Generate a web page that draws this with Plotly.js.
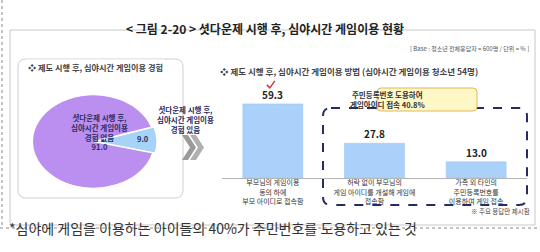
<!DOCTYPE html>
<html>
<head>
<meta charset="utf-8">
<script src="https://cdn.plot.ly/plotly-3.0.1.min.js"></script>
<style>
html,body{margin:0;padding:0;background:#fff;}
#wrap{position:relative;width:540px;height:252px;}
#pie{position:absolute;left:45px;top:93px;width:97px;height:97px;transform:scaleX(1.31);transform-origin:50% 50%;z-index:0;}
#chart{position:absolute;left:0;top:0;width:540px;height:252px;z-index:1;}
</style>
</head>
<body>
<div id="wrap">
<div id="pie"></div>
<div id="chart"></div>
</div>
<script>
// ---- data ----
const categories = [
  '부모님의 게임이용<br>동의 하에<br>부모 아이디로 접속함',
  '허락 없이 부모님의<br>게임 아이디를 개설해 게임에<br>접속함',
  '가족 외 타인의<br>주민등록번호를<br>이용하여 게임 접속'
];
const methodValues = [59.3, 27.8, 13.0];
const pieLabels = ['셧다운제 시행 후, 심야시간 게임이용 경험 있음', '셧다운제 시행 후, 심야시간 게임이용 경험 없음'];
const pieValues = [9.0, 91.0];
const calloutText = '주민등록번호 도용하여<br>게임아이디 접속 40.8%';

// ---- helpers (pixel -> paper) ----
const W = 540, H = 252;
const px = x => x / W;
const py = y => 1 - y / H;
function rrect(x0, y0, x1, y1, r) {
  const a = (x, y) => px(x) + ',' + py(y);
  return 'M' + a(x0 + r, y0) + ' L' + a(x1 - r, y0) +
    ' Q' + a(x1, y0) + ' ' + a(x1, y0 + r) +
    ' L' + a(x1, y1 - r) + ' Q' + a(x1, y1) + ' ' + a(x1 - r, y1) +
    ' L' + a(x0 + r, y1) + ' Q' + a(x0, y1) + ' ' + a(x0, y1 - r) +
    ' L' + a(x0, y0 + r) + ' Q' + a(x0, y0) + ' ' + a(x0 + r, y0) + ' Z';
}
function poly(pts) {
  return 'M' + pts.map(p => px(p[0]) + ',' + py(p[1])).join(' L') + ' Z';
}

const FONT = '"Noto Sans CJK KR", "Noto Sans", sans-serif';
const NAVY = '#2c2d5e';

// ---- pie (drawn in its own div, stretched horizontally into an ellipse) ----
Plotly.newPlot('pie', [{
  type: 'pie',
  labels: pieLabels,
  values: pieValues,
  sort: false,
  direction: 'clockwise',
  rotation: 72,
  pull: [0.04, 0],
  textinfo: 'none',
  hoverinfo: 'label+value',
  marker: {colors: ['#a6d3f8', '#bb8ff0'], line: {color: '#ffffff', width: 1}},
  domain: {x: [0, 1], y: [0, 1]},
  showlegend: false
}], {
  width: 97, height: 97,
  margin: {l: 0, r: 0, t: 0, b: 0},
  paper_bgcolor: 'rgba(0,0,0,0)',
  showlegend: false
}, {displayModeBar: false, staticPlot: true});

// ---- main chart ----
const traces = [
  {
    type: 'bar',
    x: categories,
    y: methodValues,
    marker: {color: '#aad1fa', line: {color: '#93c2f3', width: 0.5}},
    hoverinfo: 'x+y',
    xaxis: 'x', yaxis: 'y',
    showlegend: false
  }
];

const shapes = [
  {type: 'line', xref: 'paper', yref: 'paper', x0: px(2), x1: px(2), y0: py(0), y1: py(226), line: {color: '#888', width: 1, dash: 'dot'}},
  {type: 'line', xref: 'paper', yref: 'paper', x0: px(0), x1: px(540), y0: py(228), y1: py(228), line: {color: '#888', width: 1, dash: 'dot'}},
  {type: 'rect', xref: 'paper', yref: 'paper', x0: px(10), x1: px(535), y0: py(30), y1: py(225), line: {color: '#c8c8c8', width: 1}},
  {type: 'path', xref: 'paper', yref: 'paper', path: rrect(18, 59, 183, 198, 8), line: {color: '#cfcfcf', width: 1}},
  {type: 'path', xref: 'paper', yref: 'paper', path: poly([[182,135],[188,135],[196,147.5],[188,160],[182,160],[190,147.5]]), fillcolor: '#9a9a9a', line: {width: 0}},
  {type: 'path', xref: 'paper', yref: 'paper', path: poly([[190,135],[196,135],[204,147.5],[196,160],[190,160],[198,147.5]]), fillcolor: '#b0b0b0', line: {width: 0}},
  {type: 'path', xref: 'paper', yref: 'paper', path: rrect(323, 108, 527, 205, 8), line: {color: '#262a66', width: 2, dash: 'dash'}},
  {type: 'path', xref: 'paper', yref: 'paper', path: rrect(377, 88, 477, 111, 4), fillcolor: '#fff7c6', line: {color: '#e2b75a', width: 1}},
  // red check mark above the highest bar
  {type: 'path', xref: 'x', yref: 'y', xsizemode: 'pixel', ysizemode: 'pixel',
   xanchor: 0, yanchor: methodValues[0],
   path: 'M -6,19 L -3,16 L 2,23', line: {color: '#d23a32', width: 1.5}}
];

const valueAnnotations = methodValues.map((v, i) => ({
  xref: 'x', yref: 'y', x: categories[i], y: v, yanchor: 'bottom', yshift: 0,
  text: '<b>' + v.toFixed(1) + '</b>', showarrow: false,
  font: {family: FONT, size: 10, color: '#222'}
}));

const annotations = valueAnnotations.concat([
  {xref: 'paper', yref: 'paper', x: px(265), y: py(18), text: '<b>< 그림 2-20 > 셧다운제 시행 후, 심야시간 게임이용 현황</b>', showarrow: false, font: {family: FONT, size: 12, color: '#222'}},
  {xref: 'paper', yref: 'paper', x: px(531), y: py(42), xanchor: 'right', text: '[ Base : 청소년 전체응답자 = 600명 / 단위 = % ]', showarrow: false, font: {family: FONT, size: 6, color: '#555'}},
  {xref: 'paper', yref: 'paper', x: px(26), y: py(59), xanchor: 'left', text: '<b>❖ 제도 시행 후, 심야시간 게임이용 경험</b>', showarrow: false, bgcolor: '#ffffff', borderpad: 1, font: {family: FONT, size: 8.2, color: '#444'}},
  {xref: 'paper', yref: 'paper', x: px(218), y: py(63), xanchor: 'left', text: '<b>❖ 제도 시행 후, 심야시간 게임이용 방법 (심야시간 게임이용 청소년 54명)</b>', showarrow: false, font: {family: FONT, size: 8.5, color: '#444'}},
  {xref: 'paper', yref: 'paper', x: px(69), y: py(132), text: '<b>셧다운제 시행 후,<br>심야시간 게임이용<br>경험 없음<br>' + pieValues[1].toFixed(1) + '</b>', showarrow: false, font: {family: FONT, size: 7.5, color: NAVY}},
  {xref: 'paper', yref: 'paper', x: px(155), y: py(119), text: '<b>셧다운제 시행 후,<br>심야시간 게임이용<br>경험 있음</b>', showarrow: false, font: {family: FONT, size: 7.5, color: NAVY}},
  {xref: 'paper', yref: 'paper', x: px(135), y: py(138), text: '<b>' + pieValues[0].toFixed(1) + '</b>', showarrow: false, font: {family: FONT, size: 7.5, color: NAVY}},
  {xref: 'paper', yref: 'paper', x: px(427), y: py(99.5), text: '<b>' + calloutText + '</b>', showarrow: false, font: {family: FONT, size: 7.5, color: '#333'}},
  {xref: 'paper', yref: 'paper', x: px(532), y: py(218), xanchor: 'right', text: '※ 주요 응답만 제시함', showarrow: false, font: {family: FONT, size: 6.5, color: '#444'}},
  {xref: 'paper', yref: 'paper', x: px(7), y: py(240), xanchor: 'left', text: '*심야에 게임을 이용하는 아이들의 40%가 주민번호를 도용하고 있는 것', showarrow: false, font: {family: FONT, size: 14, color: '#333'}}
]);

const layout = {
  width: W, height: H,
  margin: {l: 0, r: 0, t: 0, b: 0},
  paper_bgcolor: 'rgba(0,0,0,0)', plot_bgcolor: 'rgba(0,0,0,0)',
  font: {family: FONT},
  showlegend: false,
  bargap: 0.41,
  xaxis: {
    domain: [px(222), px(527)],
    range: [-0.5, 2.5],
    type: 'category',
    showline: true, linecolor: '#b5b5b5', linewidth: 1,
    ticks: '', showgrid: false, zeroline: false,
    tickfont: {family: FONT, size: 7, color: '#333'},
    ticklabelstandoff: -2,
    fixedrange: true
  },
  yaxis: {
    domain: [py(178), py(53)],
    range: [0, 100],
    visible: false, showgrid: false, zeroline: false,
    fixedrange: true
  },
  shapes: shapes,
  annotations: annotations
};

Plotly.newPlot('chart', traces, layout, {displayModeBar: false, staticPlot: true});
</script>
</body>
</html>
